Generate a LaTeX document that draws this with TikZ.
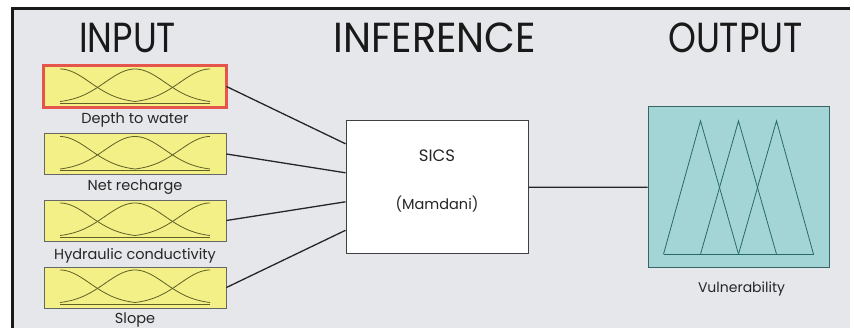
\documentclass[tikz,border=0pt]{standalone}
\usepackage{fontspec}
\setmainfont{Poppins}
\usetikzlibrary{calc}
\definecolor{bg}{RGB}{230,231,234}
\definecolor{yel}{RGB}{242,240,134}
\definecolor{crv}{RGB}{95,95,40}
\definecolor{redb}{RGB}{230,85,75}
\definecolor{tealf}{RGB}{163,213,215}
\definecolor{tealb}{RGB}{55,100,100}
\definecolor{tri}{RGB}{40,105,105}
\begin{document}
\begin{tikzpicture}[x=1pt,y=-1pt,
  inbox/.style={draw=black!60,line width=0.9pt,fill=yel,minimum width=182pt,minimum height=41pt,inner sep=0pt},
  lbl/.style={font=\fontsize{14.5}{14.5}\selectfont,text=black!85,inner sep=0pt,anchor=base},
  ttl/.style={font=\fontsize{42}{42}\selectfont,text=black!90,inner sep=0pt},
  conn/.style={line width=1.3pt,draw=black!85},
  mf/.style={draw=crv,line width=0.8pt},
  tr/.style={draw=tri,line width=0.8pt}]

\useasboundingbox (0,0) rectangle (854,328);
\fill[white] (0,0) rectangle (854,328);
\fill[bg] (12.5,9) rectangle (850,328);
\draw[line width=3pt,black!90] (12.5,328) -- (12.5,9) -- (850,9);

% titles
\node[ttl] (tin) at (127.5,38) {\scalebox{0.84}[1]{INPUT}};
\node[ttl] (tinf) at (435,38) {\scalebox{0.95}[1]{INFERENCE}};
\node[ttl] (tout) at (735.5,38) {\scalebox{0.845}[1]{OUTPUT}};

% input boxes
\node[inbox] (in1) at (135,86.5) {};
\node[inbox] (in2) at (135,154) {};
\node[inbox] (in3) at (135,220.5) {};
\node[inbox] (in4) at (135,287.5) {};
\draw[redb,line width=2.6pt] (in1.south west) rectangle (in1.north east);

\foreach \b in {in1,in2,in3,in4}{
  \begin{scope}[shift={(\b.center)}]
    \draw[mf] (-75,16.5) -- (75,16.5);
    \draw[mf] plot[domain=0:75,samples=40] ({-75+\x},{16.5-34*exp(-(\x/30)*(\x/30)/2)});
    \draw[mf] plot[domain=-75:75,samples=60] (\x,{16.5-34*exp(-(\x/30)*(\x/30)/2)});
    \draw[mf] plot[domain=0:75,samples=40] (\x,{16.5-34*exp(-((75-\x)/30)*((75-\x)/30)/2)});
  \end{scope}
}

\node[lbl] (l1) at ($(in1.south)+(0,16)$) {Depth to water};
\node[lbl] (l2) at ($(in2.south)+(0,16)$) {Net recharge};
\node[lbl] (l3) at ($(in3.south)+(0,18)$) {Hydraulic conductivity};
\node[lbl] (l4) at ($(in4.south)+(0,15)$) {Slope};

% inference box
\node[draw=black!75,line width=1pt,fill=white,minimum width=182pt,minimum height=133pt,inner sep=0pt] (sics) at (437,187.3) {};
\node[font=\fontsize{16.5}{16.5}\selectfont,text=black!85,inner sep=0pt,anchor=base] (t1) at (437,162) {SICS};
\node[font=\fontsize{14.5}{14.5}\selectfont,text=black!85,inner sep=0pt,anchor=base] (t2) at (437,210) {(Mamdani)};

\coordinate (s1) at ($(sics.west)+(0,-43.5)$);
\coordinate (s2) at ($(sics.west)+(0,-14.5)$);
\coordinate (s3) at ($(sics.west)+(0,14.5)$);
\coordinate (s4) at ($(sics.west)+(0,43)$);
\draw[conn] (in1.east) -- (s1);
\draw[conn] (in2.east) -- (s2);
\draw[conn] (in3.east) -- (s3);
\draw[conn] (in4.east) -- (s4);

% output box
\node[draw=tealb,line width=1pt,fill=tealf,minimum width=181pt,minimum height=161pt,inner sep=0pt] (out) at (738.5,187.2) {};
\begin{scope}[shift={(out.center)}]
  \draw[tr] (-75,67) -- (75,67);
  \draw[tr] (-75,67) -- (-38,-66.3) -- (0,67);
  \draw[tr] (-38,67) -- (0,-66.3) -- (38,67);
  \draw[tr] (0,67) -- (38,-66.3) -- (75,67);
\end{scope}
\node[lbl,font=\fontsize{14}{14}\selectfont] (l5) at (741.5,293) {Vulnerability};

\draw[conn] (sics.east) -- (out.west);
\end{tikzpicture}
\end{document}
